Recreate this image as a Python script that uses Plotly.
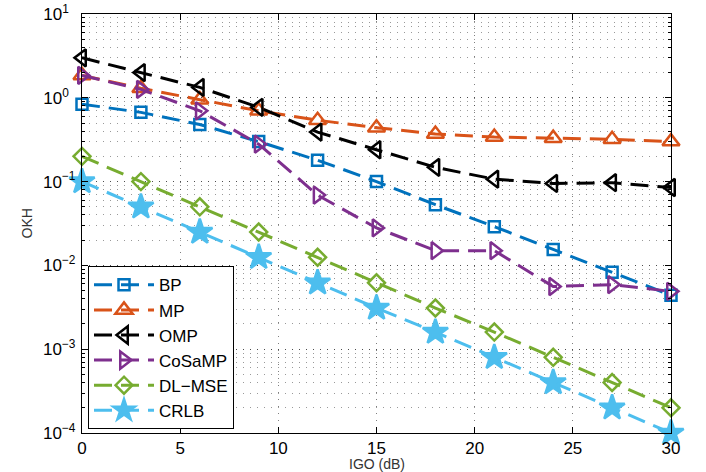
import plotly.graph_objects as go

# IGO sweep (dB)
igo = [0, 3, 6, 9, 12, 15, 18, 21, 24, 27, 30]

bp = [0.84, 0.67, 0.48, 0.30, 0.18, 0.10, 0.053, 0.029, 0.0155, 0.0083, 0.0044]
mp = [1.85, 1.3, 0.95, 0.70, 0.54, 0.44, 0.37, 0.34, 0.33, 0.32, 0.30]
omp = [3.0, 2.0, 1.33, 0.77, 0.39, 0.24, 0.148, 0.107, 0.095, 0.097, 0.085]
cosamp = [1.85, 1.26, 0.70, 0.28, 0.069, 0.028, 0.015, 0.015, 0.0056, 0.0059, 0.0049]
dl_mse = [0.2, 0.1, 0.05, 0.025, 0.0125, 0.0062, 0.0031, 0.0016, 0.0008, 0.0004, 0.0002]
crlb = [0.1, 0.05, 0.025, 0.0125, 0.0062, 0.0031, 0.0016, 0.0008, 0.0004, 0.0002, 0.0001]

# decade ticks; a figure space pads non-negative exponents so the "10" bases line up
y_exponents = [-4, -3, -2, -1, 0, 1]
y_tickvals = [10.0 ** e for e in y_exponents]
y_ticktext = [
    f"10<sup>\u2212{-e}</sup>" if e < 0 else f"10<sup>{e}\u2007</sup>"
    for e in y_exponents
]

series = [
    ("BP", bp, "#0072BD", "square-open", 11),
    ("MP", mp, "#D95319", "triangle-up-open", 15),
    ("OMP", omp, "#000000", "triangle-left-open", 15),
    ("CoSaMP", cosamp, "#7E2F8E", "triangle-right-open", 15),
    ("DL\u2212MSE", dl_mse, "#77AC30", "diamond-open", 13),
    ("CRLB", crlb, "#4DBEEE", "star", 19),
]

fig = go.Figure()
for name, vals, color, symbol, size in series:
    fig.add_trace(go.Scatter(
        x=igo, y=vals, name=name, mode="lines+markers",
        line=dict(color=color, width=3, dash="18px,9px"),
        marker=dict(symbol=symbol, size=size, color=color,
                    line=dict(color=color, width=2.5)),
        cliponaxis=False,
    ))

font = "Liberation Sans, Arial, Helvetica, sans-serif"
grid = dict(showgrid=True, gridcolor="rgba(0,0,0,0.5)", gridwidth=1, griddash="1px,6px")

fig.update_layout(
    width=706, height=472,
    margin=dict(l=82, r=35, t=14, b=39),
    paper_bgcolor="white", plot_bgcolor="white",
    font=dict(family=font, size=17, color="black"),
    showlegend=True,
    legend=dict(
        x=0.0102, y=0.009, xanchor="left", yanchor="bottom",
        bgcolor="white", bordercolor="black", borderwidth=1,
        font=dict(size=17), itemwidth=60, tracegroupgap=0,
    ),
    xaxis=dict(
        range=[0, 30], dtick=5, tick0=0, automargin=False,
        ticks="inside", ticklen=6, tickwidth=1, tickcolor="black",
        showline=True, linecolor="black", linewidth=1.3, mirror="ticks",
        zeroline=False, ticklabelstandoff=-1,
        **grid,
    ),
    yaxis=dict(
        type="log", range=[-4, 1], automargin=False,
        tickmode="array", tickvals=y_tickvals, ticktext=y_ticktext,
        ticks="inside", ticklen=6, tickwidth=1, tickcolor="black",
        showline=True, linecolor="black", linewidth=1.3, mirror="ticks",
        zeroline=False, ticklabelstandoff=2,
        minor=dict(ticks="inside", ticklen=3, tickcolor="black", dtick="D1",
                   showgrid=True, gridcolor="rgba(0,0,0,0.4)", griddash="1px,6px"),
        **grid,
    ),
    annotations=[
        dict(text="IGO (dB)", xref="paper", yref="paper", x=0.5, y=-0.075,
             xanchor="center", yanchor="middle", showarrow=False,
             font=dict(size=14, color="#333")),
        dict(text="OKH", xref="paper", yref="paper", x=-0.0935, y=0.5,
             xanchor="center", yanchor="middle", textangle=-90, showarrow=False,
             font=dict(size=14, color="#333")),
    ],
)

fig.write_html("out.html")
